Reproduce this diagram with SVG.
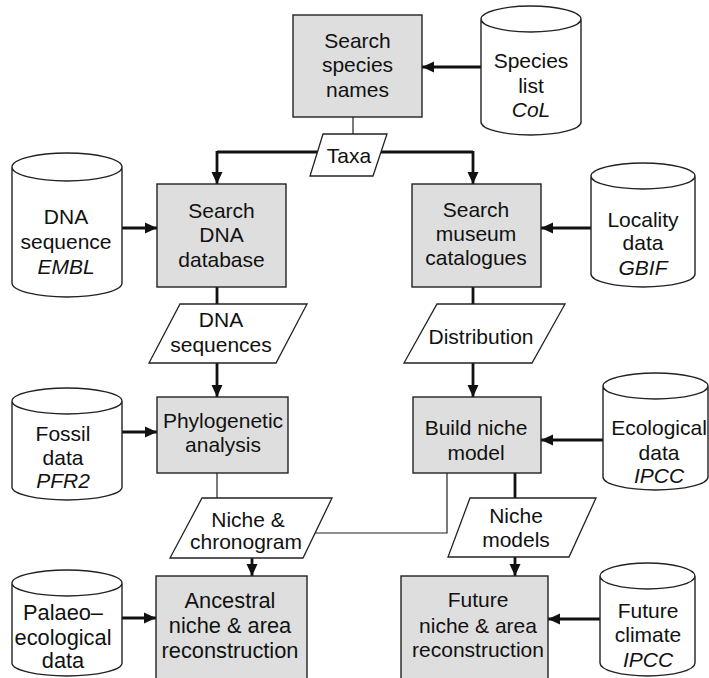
<svg xmlns="http://www.w3.org/2000/svg" width="709" height="678" viewBox="0 0 709 678">
<defs>
<style>
.box{fill:#dedede;stroke:#222;stroke-width:1.4}
.db{fill:#fff;stroke:#222;stroke-width:1.4}
.io{fill:#fff;stroke:#222;stroke-width:1.3}
text{font-family:"Liberation Sans",Arial,sans-serif;font-size:21px;fill:#111;text-anchor:middle}
.big text{font-size:21.8px}
.it{font-style:italic}
.thick{fill:none;stroke:#111;stroke-width:2.8}
.thin{fill:none;stroke:#222;stroke-width:1.2}
.arr{marker-end:url(#ah)}
</style>
<marker id="ah" markerUnits="userSpaceOnUse" markerWidth="12" markerHeight="12" viewBox="0 0 12 12" refX="12" refY="6" orient="auto">
<path d="M0,0.5 L12,6 L0,11.5 Z" fill="#111"/>
</marker>
</defs>
<rect width="709" height="678" fill="#fff"/>
<g id="connectors">
<line class="thin" x1="353" y1="117" x2="353" y2="134"/>
<polyline class="thick" points="217,152 473,152"/>
<line class="thick arr" x1="217" y1="151" x2="217" y2="184"/>
<line class="thick arr" x1="473" y1="151" x2="473" y2="184"/>
<line class="thick arr" x1="481" y1="67" x2="422" y2="67"/>
<line class="thick arr" x1="105" y1="228" x2="157" y2="228"/>
<line class="thick arr" x1="591" y1="228" x2="541" y2="228"/>
<line class="thick" x1="217" y1="287" x2="217" y2="304"/>
<line class="thick arr" x1="217" y1="363" x2="217" y2="397"/>
<line class="thick" x1="473" y1="287" x2="473" y2="304"/>
<line class="thick arr" x1="473" y1="363" x2="473" y2="397"/>
<line class="thick arr" x1="105" y1="432" x2="157" y2="432"/>
<line class="thick arr" x1="603" y1="440" x2="541" y2="440"/>
<line class="thin" x1="217" y1="473" x2="217" y2="498"/>
<polyline class="thin" points="300,533 447,533 447,473"/>
<line class="thick" x1="515" y1="473" x2="515" y2="498"/>
<line class="thick arr" x1="252" y1="557" x2="252" y2="576"/>
<line class="thick arr" x1="515" y1="557" x2="515" y2="576"/>
<line class="thick arr" x1="105" y1="618" x2="156" y2="618"/>
<line class="thick arr" x1="600" y1="619" x2="548" y2="619"/>
</g>
<g id="search-species">
<rect class="box" x="293" y="15" width="129" height="102"/>
<text x="357.5" y="48">Search</text>
<text x="357.5" y="72">species</text>
<text x="357.5" y="97">names</text>
</g>
<g id="species-list">
<path class="db" d="M481,19 A50,13 0 0 1 581,19 V122 A50,13 0 0 1 481,122 Z M481,19 A50,13 0 0 0 581,19"/>
<text x="531" y="68">Species</text>
<text x="531" y="93">list</text>
<text x="531" y="117" class="it">CoL</text>
</g>
<g id="taxa">
<polygon class="io" points="323,134 387,134 373,176 310,176"/>
<text x="349" y="163">Taxa</text>
</g>
<g id="search-dna">
<rect class="box" x="157" y="184" width="129" height="103"/>
<text x="221.5" y="218">Search</text>
<text x="221.5" y="242">DNA</text>
<text x="221.5" y="267">database</text>
</g>
<g id="dna-sequence">
<path class="db" d="M12,167 A55,14 0 0 1 122,167 V283 A55,14 0 0 1 12,283 Z M12,167 A55,14 0 0 0 122,167"/>
<text x="66" y="224">DNA</text>
<text x="66" y="249">sequence</text>
<text x="66" y="274" class="it">EMBL</text>
</g>
<g id="search-museum">
<rect class="box" x="412" y="184" width="129" height="103"/>
<text x="476" y="217">Search</text>
<text x="476" y="241">museum</text>
<text x="476" y="265">catalogues</text>
</g>
<g id="locality-data">
<path class="db" d="M591,176 A52,13 0 0 1 695,176 V274 A52,13 0 0 1 591,274 Z M591,176 A52,13 0 0 0 695,176"/>
<text x="643" y="227">Locality</text>
<text x="643" y="250">data</text>
<text x="643" y="275" class="it">GBIF</text>
</g>
<g id="dna-sequences">
<polygon class="io" points="180,304 307,304 276,363 149,363"/>
<text x="221" y="327">DNA</text>
<text x="221" y="352">sequences</text>
</g>
<g id="distribution">
<polygon class="io" points="437,304 565,304 532,363 404,363"/>
<text x="481" y="344">Distribution</text>
</g>
<g id="phylogenetic">
<rect class="box" x="157" y="397" width="131" height="76"/>
<text x="223" y="428">Phylogenetic</text>
<text x="223" y="452">analysis</text>
</g>
<g id="fossil-data">
<path class="db" d="M12,401 A55,13 0 0 1 122,401 V487 A55,13 0 0 1 12,487 Z M12,401 A55,13 0 0 0 122,401"/>
<text x="63" y="441">Fossil</text>
<text x="63" y="465">data</text>
<text x="63" y="488" class="it">PFR2</text>
</g>
<g id="build-niche">
<rect class="box" x="413" y="397" width="128" height="76"/>
<text x="476" y="435">Build niche</text>
<text x="476" y="460">model</text>
</g>
<g id="ecological-data">
<path class="db" d="M603,386 A52.5,13 0 0 1 708,386 V477 A52.5,13 0 0 1 603,477 Z M603,386 A52.5,13 0 0 0 708,386"/>
<text x="659" y="435">Ecological</text>
<text x="659" y="460">data</text>
<text x="659" y="483" class="it">IPCC</text>
</g>
<g id="niche-chronogram">
<polygon class="io" points="202,498 332,498 303,558 170,558"/>
<text x="248" y="527">Niche &amp;</text>
<text x="246" y="549">chronogram</text>
</g>
<g id="niche-models">
<polygon class="io" points="470,498 596,498 569,557 448,557"/>
<text x="516" y="523">Niche</text>
<text x="516" y="547">models</text>
</g>
<g id="ancestral" class="big">
<rect class="box" x="156" y="576" width="151" height="104"/>
<text x="230" y="608">Ancestral</text>
<text x="230" y="633">niche &amp; area</text>
<text x="230" y="658">reconstruction</text>
</g>
<g id="palaeo-data" class="big">
<path class="db" d="M12,583 A55,13 0 0 1 122,583 V663 A55,13 0 0 1 12,663 Z M12,583 A55,13 0 0 0 122,583"/>
<text x="63" y="620">Palaeo–</text>
<text x="63" y="645">ecological</text>
<text x="63" y="668">data</text>
</g>
<g id="future">
<rect class="box" x="401" y="576" width="147" height="104"/>
<text x="478" y="607">Future</text>
<text x="478" y="633">niche &amp; area</text>
<text x="478" y="657">reconstruction</text>
</g>
<g id="future-climate">
<path class="db" d="M600,576 A47.5,13 0 0 1 695,576 V663 A47.5,13 0 0 1 600,663 Z M600,576 A47.5,13 0 0 0 695,576"/>
<text x="648" y="618">Future</text>
<text x="648" y="642">climate</text>
<text x="648" y="667" class="it">IPCC</text>
</g>
</svg>
